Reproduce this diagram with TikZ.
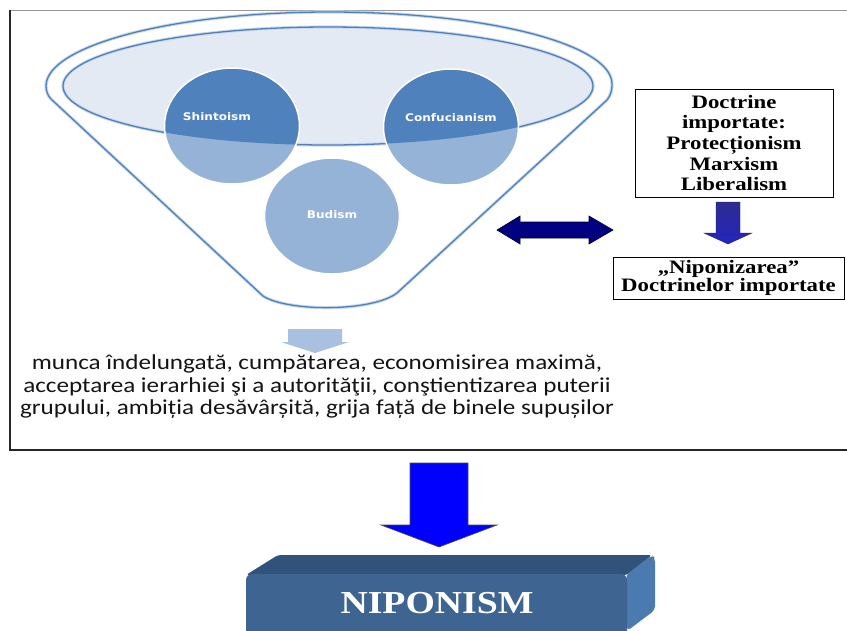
\documentclass[tikz,border=0pt]{standalone}
\usepackage{fontspec}
\setmainfont{Liberation Serif}
\newfontfamily\serifst[FakeStretch=1.2]{Liberation Serif}
\newfontfamily\nipst[FakeStretch=1.18]{Liberation Serif}
\newfontfamily\calst[FakeStretch=1.18]{Carlito}
\newfontfamily\dvst[FakeStretch=1.15]{DejaVu Sans}
\usetikzlibrary{shapes.geometric}
\definecolor{fblue}{HTML}{4F81BD}
\definecolor{flight}{HTML}{95B3D7}
\definecolor{fpale}{HTML}{E4EAF4}
\definecolor{arrlight}{HTML}{A9C0E0}
\definecolor{navyar}{HTML}{000080}
\definecolor{midblue}{HTML}{3434A6}
\definecolor{ntop}{HTML}{31527A}
\definecolor{nfront}{HTML}{3E6592}
\definecolor{nside}{HTML}{4B7AB0}
\begin{document}
\begin{tikzpicture}[x=1pt,y=-1pt,
  bub/.style={ellipse, inner sep=0pt, minimum width=135pt, minimum height=116pt},
  bubtext/.style={text=white, font=\dvst\bfseries\fontsize{10.5}{12}\selectfont, inner sep=0pt},
  docbox/.style={draw=black, line width=0.8pt, fill=white, align=center, inner sep=0pt,
    font=\serifst\bfseries\fontsize{19}{20.7}\selectfont},
  funnelline/.style={draw=fblue, line width=1.3pt},
  funnelhalo/.style={draw=fblue!30, line width=3.2pt}]
\useasboundingbox (0,0) rectangle (847,630);
\fill[white] (0,0) rectangle (847,630);
% frame
\draw[black!40, line width=1pt] (10,10) -- (850,10);
\draw[black!85, line width=1.3pt] (10,10) -- (10,450) -- (850,450);
% funnel outer
\def\outerfun{(263,296) -- (51,99) .. controls (48,96) and (46,91) .. (46,86)
  .. controls (46,46) and (172,12) .. (329,12)
  .. controls (486,12) and (612,44) .. (612,84)
  .. controls (612,92) and (610,96) .. (607,100)
  -- (397,293) .. controls (372,312) and (288,312) .. (263,296) -- cycle}
\path[fill=white, funnelhalo] \outerfun;
\path[funnelline] \outerfun;
% inner ellipse (explicit Bezier)
\def\innerell{(63,86) .. controls (63,53.4) and (181.6,27) .. (328,27)
  .. controls (474.4,27) and (593,53.4) .. (593,86)
  .. controls (593,118.6) and (474.4,145) .. (328,145)
  .. controls (181.6,145) and (63,118.6) .. (63,86) -- cycle}
\path[fill=fpale, funnelhalo] \innerell;
\path[funnelline] \innerell;
% circles
\node[bub, fill=flight] (shin) at (232,126) {};
\node[bub, fill=flight] (conf) at (451,127) {};
\node[bub, fill=flight] (bud) at (332,216) {};
\begin{scope}
  \clip \innerell;
  \node[bub, fill=fblue] (shinD) at (shin) {};
  \node[bub, fill=fblue] (confD) at (conf) {};
\end{scope}
\node[bub, draw=white, line width=1.5pt] (shinB) at (shin) {};
\node[bub, draw=white, line width=1.5pt] (confB) at (conf) {};
\node[bub, draw=white, line width=1.5pt] (budB) at (bud) {};
\node[bubtext] (shintxt) at (217,117) {Shintoism};
\node[bubtext] (conftxt) at (451,118) {Confucianism};
\node[bubtext] (budtxt) at (332,215) {Budism};
% small light arrow
\fill[arrlight] (288,329) -- (342,329) -- (342,342) -- (349,342) -- (315,353) -- (281,342) -- (288,342) -- cycle;
% virtues text
\node[align=center, text=black!92, inner sep=0pt, font=\calst\fontsize{21.3}{22.5}\selectfont] (virt) at (317,387)
  {munca îndelungată, cumpătarea, economisirea maximă,\\
   acceptarea ierarhiei şi a autorităţii, conştientizarea puterii\\
   grupului, ambiția desăvârșită, grija față de binele supușilor};
% double arrow
\filldraw[fill=navyar, draw=black!60!navyar, line width=0.6pt]
  (497,230) -- (520,216) -- (520,222) -- (589,222) -- (589,216) -- (613,230)
  -- (589,244) -- (589,238) -- (520,238) -- (520,244) -- cycle;
% doctrine boxes
\node[docbox, minimum width=198pt, minimum height=108pt] (doc) at (734,143)
  {Doctrine\\ importate:\\ Protecționism\\ Marxism\\ Liberalism};
\node[docbox, minimum width=231pt, minimum height=42pt, font=\serifst\bfseries\fontsize{19}{18}\selectfont] (nip) at (728.5,278)
  {„Niponizarea”\\ Doctrinelor importate};
% arrow doc -> nip
\shade[top color=midblue!85!black, bottom color=midblue!70!blue, draw=midblue!70!black, line width=0.4pt]
  (716,202) -- (740,202) -- (740,233) -- (752,233) -- (728,244) -- (704,233) -- (716,233) -- cycle;
% big blue arrow
\filldraw[fill=blue, draw=black!70, line width=0.6pt]
  (410,463) -- (468,463) -- (468,525) -- (497,525) -- (439,547) -- (381,525) -- (410,525) -- cycle;
% NIPONISM bar
\fill[ntop, rounded corners=3pt] (246,575) -- (278,555) -- (652,555) -- (627,575) -- cycle;
\fill[nside, rounded corners=4pt] (626,575) -- (652,555) -- (655,558) -- (655,610) -- (627,631) -- cycle;
\fill[nfront, rounded corners=6pt] (246,574) rectangle (627,650);
\node[text=white, inner sep=0pt, font=\nipst\bfseries\fontsize{32}{32}\selectfont] (nipo) at (437,603) {NIPONISM};
\end{tikzpicture}
\end{document}
